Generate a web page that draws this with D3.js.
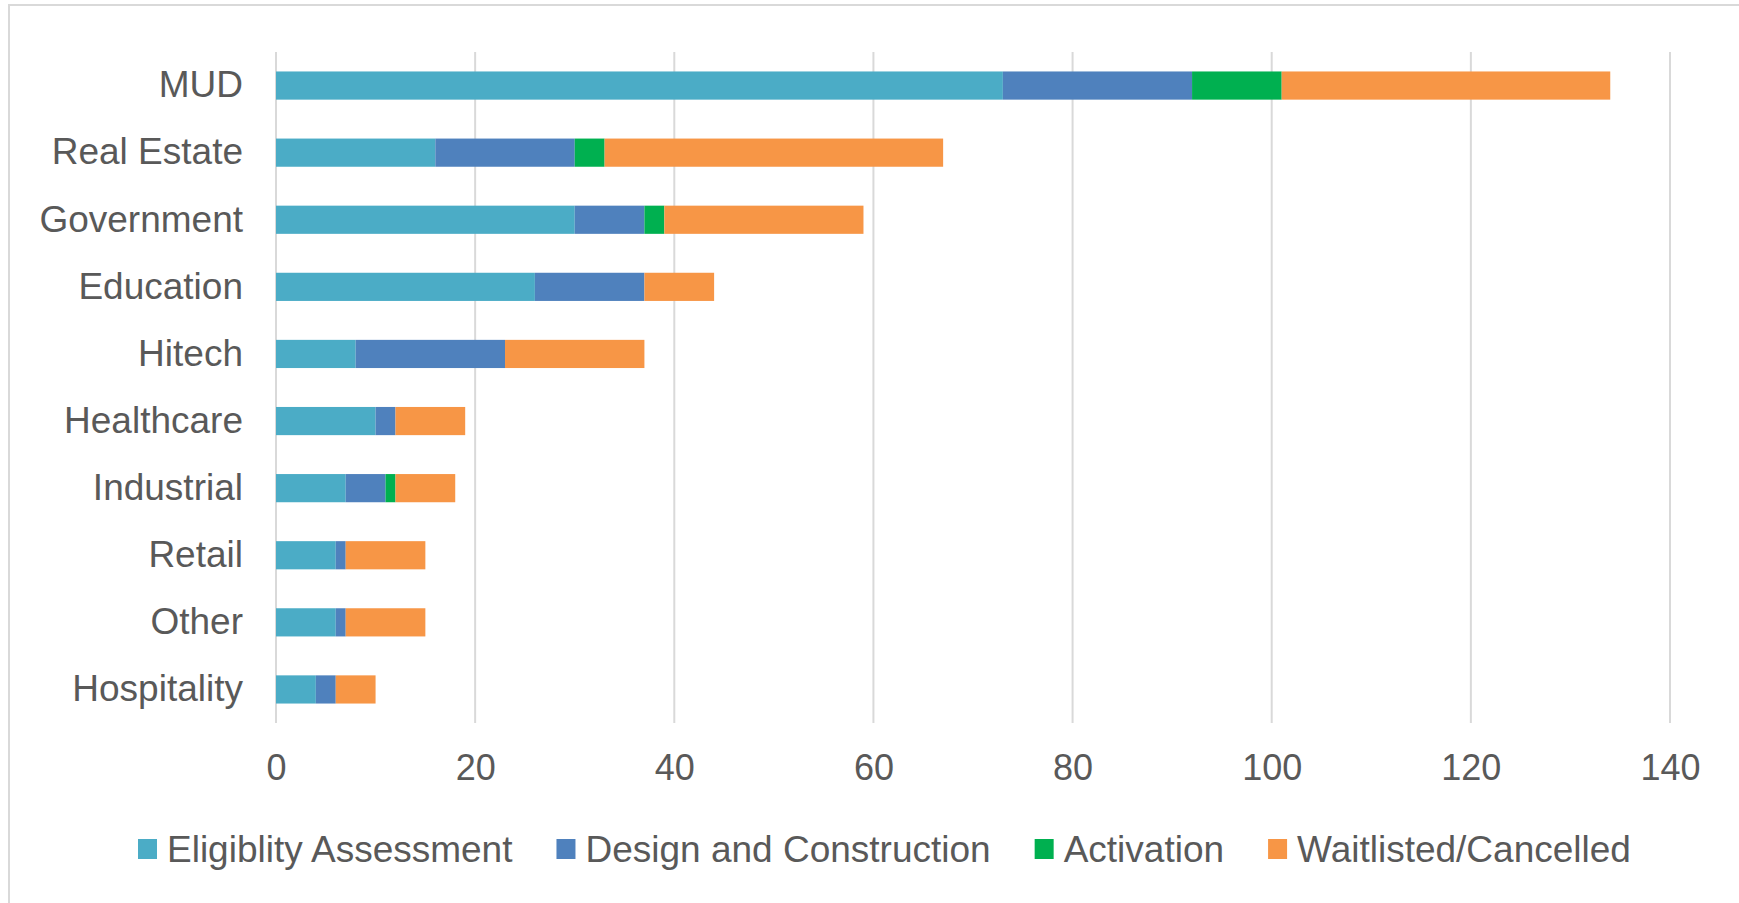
<!DOCTYPE html>
<html>
<head>
<meta charset="utf-8">
<script src="https://cdn.jsdelivr.net/npm/d3@7"></script>
<style>
  html, body { margin: 0; padding: 0; background: #ffffff; }
  svg { display: block; }
  text { font-family: "Liberation Sans", Arial, sans-serif; fill: #595959; }
</style>
</head>
<body>
<svg id="chart" width="1739" height="903"></svg>
<script>
// Project counts by sector, split by pipeline stage
const categories = ["MUD", "Real Estate", "Government", "Education", "Hitech",
                    "Healthcare", "Industrial", "Retail", "Other", "Hospitality"];
const seriesNames = ["Eligiblity Assessment", "Design and Construction", "Activation", "Waitlisted/Cancelled"];
const eligibility = [73, 16, 30, 26, 8, 10, 7, 6, 6, 4];
const design      = [19, 14,  7, 11, 15, 2, 4, 1, 1, 2];
const activation  = [ 9,  3,  2,  0, 0, 0, 1, 0, 0, 0];
const waitlisted  = [33, 34, 20,  7, 14, 7, 6, 8, 8, 4];
const xTicks = [0, 20, 40, 60, 80, 100, 120, 140];
const colors = ["#4BACC6", "#4F81BD", "#00B050", "#F79646"];

const svg = d3.select("#chart");

// outer chart frame
svg.append("rect")
  .attr("x", 9).attr("y", 5)
  .attr("width", 1760).attr("height", 920)
  .attr("fill", "none").attr("stroke", "#d9d9d9").attr("stroke-width", 2);

const rows = categories.map((c, i) => ({
  cat: c,
  "Eligiblity Assessment": eligibility[i],
  "Design and Construction": design[i],
  "Activation": activation[i],
  "Waitlisted/Cancelled": waitlisted[i]
}));

const stacked = d3.stack().keys(seriesNames)(rows);

const x = d3.scaleLinear().domain([0, 140]).range([276, 1670]);
const y = d3.scaleBand().domain(categories).range([52, 723])
  .paddingInner(0.58).paddingOuter(0.29);

// vertical gridlines
svg.append("g")
  .selectAll("line")
  .data(xTicks)
  .join("line")
  .attr("x1", d => x(d)).attr("x2", d => x(d))
  .attr("y1", 52).attr("y2", 723)
  .attr("stroke", "#d9d9d9").attr("stroke-width", 2);

// stacked bars
svg.append("g")
  .selectAll("g")
  .data(stacked)
  .join("g")
  .attr("fill", (d, i) => colors[i])
  .selectAll("rect")
  .data(d => d)
  .join("rect")
  .attr("x", d => x(d[0]))
  .attr("y", d => y(d.data.cat))
  .attr("width", d => x(d[1]) - x(d[0]))
  .attr("height", y.bandwidth());

// category axis labels
const yAxis = d3.axisLeft(y).tickSize(0).tickPadding(33);
svg.append("g")
  .attr("transform", `translate(${x(0)},0)`)
  .call(yAxis)
  .call(g => g.select(".domain").remove())
  .call(g => g.selectAll("text")
    .attr("font-size", 37)
    .attr("font-family", "Liberation Sans, Arial, sans-serif")
    .attr("fill", "#595959"));

// value axis labels
const xAxis = d3.axisBottom(x).tickValues(xTicks).tickSize(0).tickPadding(0);
svg.append("g")
  .attr("transform", "translate(0,767)")
  .call(xAxis)
  .call(g => g.select(".domain").remove())
  .call(g => g.selectAll("text")
    .attr("dy", "0.35em")
    .attr("font-size", 36)
    .attr("font-family", "Liberation Sans, Arial, sans-serif")
    .attr("fill", "#595959"));

// legend
const legend = svg.append("g").attr("transform", "translate(138,849)");
let lx = 0;
seriesNames.forEach((name, i) => {
  const item = legend.append("g").attr("transform", `translate(${lx},0)`);
  item.append("rect")
    .attr("x", 0).attr("y", -10)
    .attr("width", 19).attr("height", 20)
    .attr("fill", colors[i]);
  const t = item.append("text")
    .attr("x", 29).attr("y", 0).attr("dy", "0.35em")
    .attr("font-size", 37)
    .text(name);
  lx += 29 + t.node().getComputedTextLength() + 44;
});
</script>
</body>
</html>
